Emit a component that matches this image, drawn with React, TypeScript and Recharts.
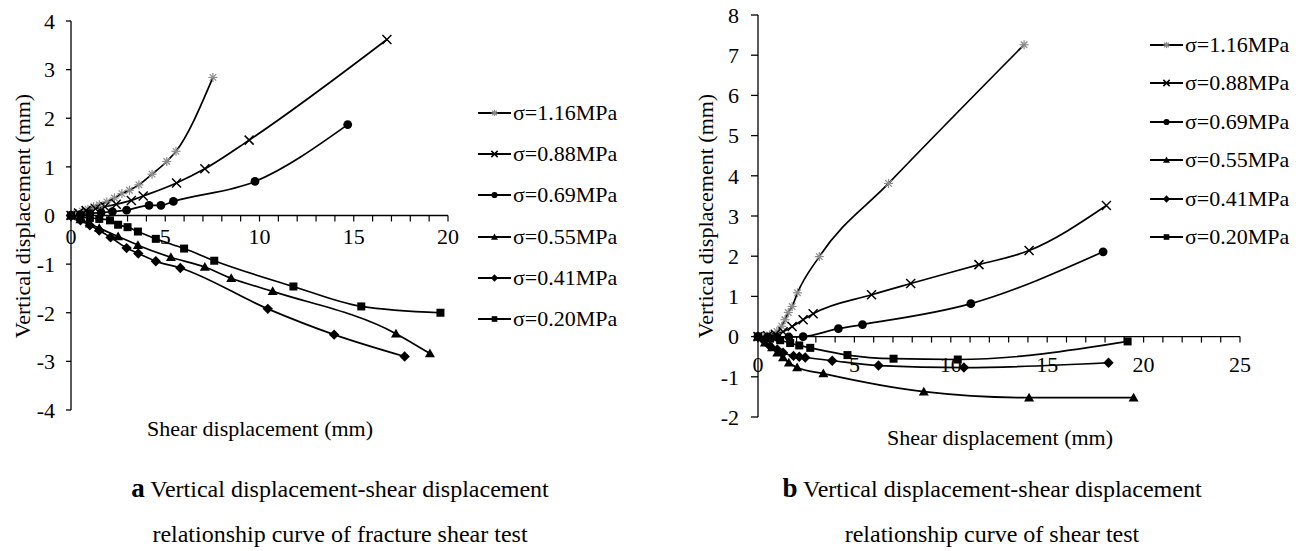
import React from 'react';
import { LineChart, Line, XAxis, YAxis, ReferenceLine } from 'recharts';

type Pt = [number, number];

const FONT = "'Liberation Serif', 'Times New Roman', serif";

const SIGMA_LABELS = ['σ=1.16MPa', 'σ=0.88MPa', 'σ=0.69MPa', 'σ=0.55MPa', 'σ=0.41MPa', 'σ=0.20MPa'];
const SHAPES = ['star', 'cross', 'circle', 'triangle', 'diamond', 'square'];

// (a) fracture shear test: [shear displacement, vertical displacement]
const A_116: Pt[] = [[0, 0], [0.3, 0.04], [0.6, 0.09], [0.9, 0.13], [1.2, 0.18], [1.5, 0.22], [1.9, 0.28], [2.3, 0.36], [2.7, 0.45], [3.1, 0.52], [3.6, 0.63], [4.3, 0.85], [5.08, 1.11], [5.57, 1.32], [7.53, 2.84]];
const A_088: Pt[] = [[0, 0], [0.4, 0.05], [0.8, 0.1], [1.3, 0.14], [1.8, 0.18], [2.4, 0.23], [3.2, 0.31], [3.83, 0.4], [5.6, 0.67], [7.1, 0.96], [9.45, 1.55], [16.76, 3.62]];
const A_069: Pt[] = [[0, 0], [0.5, 0.02], [1.0, 0.04], [1.6, 0.06], [2.2, 0.08], [2.95, 0.11], [4.14, 0.21], [4.77, 0.21], [5.43, 0.29], [9.76, 0.7], [14.68, 1.87]];
const A_055: Pt[] = [[0, 0], [0.5, -0.08], [1.0, -0.17], [1.5, -0.26], [2.5, -0.43], [3.55, -0.61], [5.3, -0.86], [7.1, -1.06], [8.5, -1.29], [10.7, -1.56], [17.24, -2.43], [19.04, -2.84]];
const A_041: Pt[] = [[0, 0], [0.5, -0.1], [1.0, -0.2], [1.5, -0.31], [2.1, -0.45], [2.95, -0.67], [3.57, -0.78], [4.5, -0.94], [5.8, -1.08], [10.44, -1.92], [13.96, -2.45], [17.7, -2.9]];
const A_020: Pt[] = [[0, 0], [0.5, -0.03], [1.0, -0.05], [1.5, -0.07], [2.07, -0.1], [2.5, -0.19], [3.0, -0.24], [3.55, -0.33], [4.5, -0.48], [6.0, -0.68], [7.6, -0.93], [11.8, -1.46], [15.4, -1.87], [19.6, -2.0]];

// (b) shear test
const B_116: Pt[] = [[0, 0], [0.3, 0.01], [0.6, 0.04], [0.98, 0.13], [1.23, 0.26], [1.4, 0.42], [1.57, 0.6], [1.77, 0.75], [2.05, 1.09], [3.18, 1.99], [6.77, 3.81], [13.8, 7.26]];
const B_088: Pt[] = [[0, 0], [0.5, 0.02], [0.9, 0.06], [1.3, 0.12], [1.77, 0.25], [2.34, 0.42], [2.86, 0.57], [5.89, 1.04], [7.92, 1.32], [11.46, 1.79], [14.06, 2.14], [18.07, 3.26]];
const B_069: Pt[] = [[0, 0], [0.5, -0.01], [1.0, -0.02], [1.6, -0.01], [2.34, 0.0], [4.17, 0.2], [5.42, 0.3], [11.04, 0.82], [17.9, 2.11]];
const B_055: Pt[] = [[0, 0], [0.36, -0.15], [0.73, -0.27], [1.0, -0.4], [1.3, -0.52], [1.6, -0.65], [2.03, -0.77], [3.39, -0.92], [8.6, -1.37], [14.06, -1.52], [19.48, -1.52]];
const B_041: Pt[] = [[0, 0], [0.3, -0.1], [0.63, -0.24], [1.0, -0.32], [1.3, -0.4], [1.84, -0.48], [2.14, -0.5], [2.45, -0.52], [3.85, -0.6], [6.25, -0.72], [10.68, -0.77], [18.18, -0.65]];
const B_020: Pt[] = [[0, 0], [0.63, -0.05], [1.15, -0.09], [1.67, -0.16], [2.14, -0.22], [2.71, -0.28], [4.64, -0.46], [7.03, -0.55], [10.36, -0.57], [19.17, -0.12]];

const A_X_TICKS = [0, 1, 2, 3, 4, 5, 6, 7, 8, 9, 10, 11, 12, 13, 14, 15, 16, 17, 18, 19, 20];
const A_Y_TICKS = [-4, -3, -2, -1, 0, 1, 2, 3, 4];
const B_X_TICKS = [0, 1, 2, 3, 4, 5, 6, 7, 8, 9, 10, 11, 12, 13, 14, 15, 16, 17, 18, 19, 20, 21, 22, 23, 24, 25];
const B_Y_TICKS = [-2, -1, 0, 1, 2, 3, 4, 5, 6, 7, 8];

const toRows = (pts: Pt[]) => pts.map(([x, y]) => ({ x, y }));

const Marker = ({ shape, cx, cy, s = 1 }: { shape: string; cx?: number; cy?: number; s?: number }) => {
    if (cx == null || cy == null) return null;
    switch (shape) {
        case 'star': {
            const r = 4.5 * s;
            const d = r * 0.72;
            return (
                <g stroke="#8c8c8c" strokeWidth={1.2}>
                    <line x1={cx - r} y1={cy} x2={cx + r} y2={cy} />
                    <line x1={cx} y1={cy - r} x2={cx} y2={cy + r} />
                    <line x1={cx - d} y1={cy - d} x2={cx + d} y2={cy + d} />
                    <line x1={cx - d} y1={cy + d} x2={cx + d} y2={cy - d} />
                </g>
            );
        }
        case 'cross': {
            const r = 4.5 * s;
            return (
                <g stroke="#000" strokeWidth={1.5}>
                    <line x1={cx - r} y1={cy - r} x2={cx + r} y2={cy + r} />
                    <line x1={cx - r} y1={cy + r} x2={cx + r} y2={cy - r} />
                </g>
            );
        }
        case 'circle':
            return <circle cx={cx} cy={cy} r={4.4 * s} fill="#000" />;
        case 'triangle': {
            const r = 5 * s;
            return <polygon points={`${cx},${cy - r} ${cx + r},${cy + r * 0.75} ${cx - r},${cy + r * 0.75}`} fill="#000" />;
        }
        case 'diamond': {
            const r = 5.2 * s;
            return <polygon points={`${cx},${cy - r} ${cx + r},${cy} ${cx},${cy + r} ${cx - r},${cy}`} fill="#000" />;
        }
        default: {
            const r = 4 * s;
            return <rect x={cx - r} y={cy - r} width={2 * r} height={2 * r} fill="#000" />;
        }
    }
};

// x-axis drawn at y = 0: ticks hang below the zero line, labels every 5
const ZeroTick = (props: any) => {
    const { x, y, payload, shift, gap } = props;
    const zy = y - shift;
    const v = payload.value;
    return (
        <g>
            <line x1={x} y1={zy} x2={x} y2={zy + 6} stroke="#000" strokeWidth={1.2} />
            {v % 5 === 0 && (
                <text x={x} y={zy + gap} textAnchor="middle" dominantBaseline="central" fontSize={22} fontFamily={FONT} fill="#000">
                    {v}
                </text>
            )}
        </g>
    );
};

const AxisTitle = ({ tx, ty, rotate, text }: { tx: number; ty: number; rotate?: boolean; text: string }) => (
    <text
        x={tx}
        y={ty}
        textAnchor="middle"
        dominantBaseline="central"
        fontSize={22}
        fontFamily={FONT}
        fill="#000"
        transform={rotate ? `rotate(-90 ${tx} ${ty})` : undefined}
    >
        {text}
    </text>
);

interface PanelProps {
    left: number;
    top: number;
    width: number;
    height: number;
    margin: { top: number; right: number; bottom: number; left: number };
    yAxisWidth: number;
    plotHeight: number;
    xTicks: number[];
    yTicks: number[];
    series: Pt[][];
    tickSize: number;
    tickMargin: number;
    labelGap: number;
    yTitle: [number, number];
    xTitle: [number, number];
}

const Panel = (p: PanelProps) => {
    const xMax = p.xTicks[p.xTicks.length - 1];
    const yMin = p.yTicks[0];
    const yMax = p.yTicks[p.yTicks.length - 1];
    const shift = (p.plotHeight * (0 - yMin)) / (yMax - yMin);
    return (
        <div style={{ position: 'absolute', left: p.left, top: p.top }}>
            <LineChart width={p.width} height={p.height} margin={p.margin}>
                <XAxis
                    type="number"
                    dataKey="x"
                    domain={[0, xMax]}
                    ticks={p.xTicks}
                    interval={0}
                    axisLine={false}
                    tickLine={false}
                    tickSize={0}
                    tickMargin={0}
                    height={10}
                    tick={<ZeroTick shift={shift} gap={p.labelGap} />}
                    label={<AxisTitle tx={p.xTitle[0]} ty={p.xTitle[1]} text="Shear displacement (mm)" />}
                />
                <YAxis
                    type="number"
                    domain={[yMin, yMax]}
                    ticks={p.yTicks}
                    interval={0}
                    width={p.yAxisWidth}
                    axisLine={{ stroke: '#000', strokeWidth: 1.3 }}
                    tickLine={{ stroke: '#000', strokeWidth: 1.3 }}
                    tickSize={p.tickSize}
                    tickMargin={p.tickMargin}
                    tick={{ fill: '#000', fontSize: 22, fontFamily: FONT }}
                    label={<AxisTitle tx={p.yTitle[0]} ty={p.yTitle[1]} rotate text="Vertical displacement (mm)" />}
                />
                <ReferenceLine y={0} stroke="#000" strokeWidth={1.3} />
                {p.series.map((pts, i) => (
                    <Line
                        key={SIGMA_LABELS[i]}
                        name={SIGMA_LABELS[i]}
                        data={toRows(pts)}
                        dataKey="y"
                        type="monotone"
                        stroke="#000"
                        strokeWidth={1.7}
                        isAnimationActive={false}
                        dot={(d: any) => <Marker key={`${i}-${d.index}`} shape={SHAPES[i]} cx={d.cx} cy={d.cy} />}
                        activeDot={false}
                    />
                ))}
            </LineChart>
        </div>
    );
};

const SideLegend = ({ left, top, step }: { left: number; top: number; step: number }) => (
    <div style={{ position: 'absolute', left, top: 0 }}>
        {SIGMA_LABELS.map((label, i) => (
            <div
                key={label}
                style={{ position: 'absolute', top: top + i * step - 12, left: 0, height: 24, display: 'flex', alignItems: 'center', whiteSpace: 'nowrap' }}
            >
                <svg width={34} height={24}>
                    <line x1={0} y1={12} x2={33} y2={12} stroke="#000" strokeWidth={1.8} />
                    <Marker shape={SHAPES[i]} cx={16.5} cy={12} s={0.7} />
                </svg>
                <span style={{ fontFamily: FONT, fontSize: 22, color: '#000', marginLeft: 1 }}>{label}</span>
            </div>
        ))}
    </div>
);

const Caption = ({ center, letter, lines }: { center: number; letter: string; lines: string[] }) => (
    <div style={{ position: 'absolute', left: center - 320, width: 640, top: 466, textAlign: 'center', fontFamily: FONT, fontSize: 24, color: '#000', lineHeight: '45px' }}>
        <div>
            <b style={{ fontSize: 27 }}>{letter}</b> {lines[0]}
        </div>
        <div>{lines[1]}</div>
    </div>
);

export default function App() {
    return (
        <div style={{ position: 'absolute', left: 0, top: 0, width: 1309, height: 551, background: '#fff', overflow: 'hidden' }}>
            <Panel
                left={0}
                top={0}
                width={660}
                height={450}
                margin={{ top: 21, right: 212, bottom: 30, left: 11 }}
                yAxisWidth={60}
                plotHeight={389}
                xTicks={A_X_TICKS}
                yTicks={A_Y_TICKS}
                series={[A_116, A_088, A_069, A_055, A_041, A_020]}
                tickSize={5}
                tickMargin={11}
                labelGap={21}
                yTitle={[22, 216]}
                xTitle={[260, 428]}
            />
            <SideLegend left={478} top={113} step={41.2} />
            <Panel
                left={680}
                top={0}
                width={629}
                height={460}
                margin={{ top: 15, right: 69, bottom: 33, left: 18 }}
                yAxisWidth={60}
                plotHeight={402}
                xTicks={B_X_TICKS}
                yTicks={B_Y_TICKS}
                series={[B_116, B_088, B_069, B_055, B_041, B_020]}
                tickSize={7}
                tickMargin={12}
                labelGap={28}
                yTitle={[25, 216]}
                xTitle={[320, 437]}
            />
            <SideLegend left={1150} top={45} step={38.4} />
            <Caption center={340} letter="a" lines={['Vertical displacement-shear displacement', 'relationship curve of fracture shear test']} />
            <Caption center={992} letter="b" lines={['Vertical displacement-shear displacement', 'relationship curve of shear test']} />
        </div>
    );
}
